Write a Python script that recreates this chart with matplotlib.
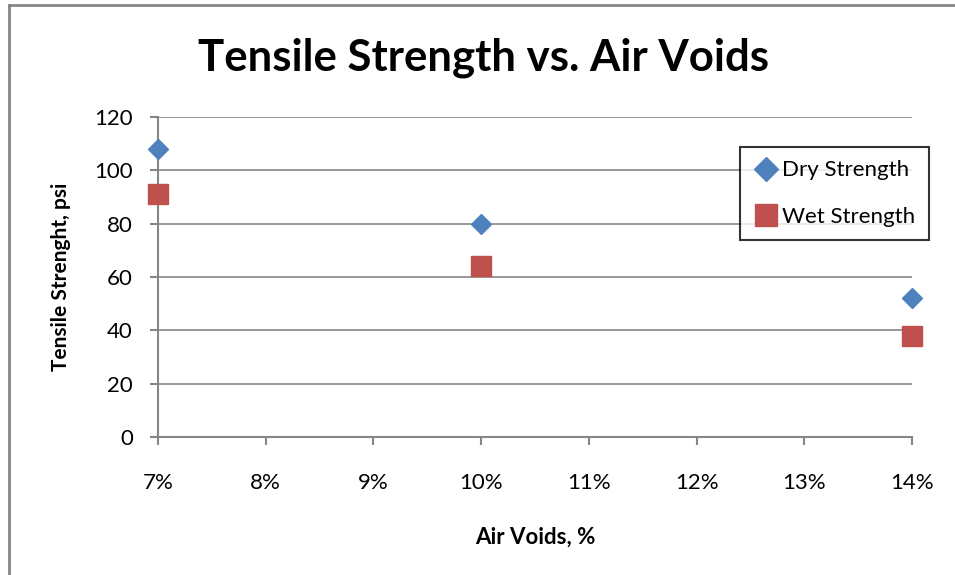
import matplotlib.pyplot as plt
from matplotlib.lines import Line2D
from matplotlib.ticker import FuncFormatter, MultipleLocator

# data
air_voids = [0.07, 0.10, 0.14]
dry_strength = [108, 80, 52]
wet_strength = [91, 64, 38]

plt.rcParams["font.family"] = ["Lato", "DejaVu Sans"]

GRID = "#868686"
BLUE = "#4F81BD"
RED = "#C0504D"

fig = plt.figure(figsize=(9.55, 5.75), dpi=100)
ax = fig.add_axes([158 / 955, 1 - 437 / 575, (912 - 158) / 955, (437 - 117) / 575])

ax.plot(air_voids, dry_strength, linestyle="none", marker="D", markersize=10.5,
        color=BLUE, label="Dry Strength", clip_on=False, zorder=3)
ax.plot(air_voids, wet_strength, linestyle="none", marker="s", markersize=14,
        color=RED, label="Wet Strength", clip_on=False, zorder=3)

ax.set_xlim(0.07, 0.14)
ax.set_ylim(0, 120)
ax.xaxis.set_major_locator(MultipleLocator(0.01))
ax.yaxis.set_major_locator(MultipleLocator(20))
ax.xaxis.set_major_formatter(FuncFormatter(lambda v, _: f"{v * 100:.0f}%"))

ax.grid(axis="y", color=GRID, linewidth=1.2)
ax.set_axisbelow(True)
for side in ("top", "right"):
    ax.spines[side].set_visible(False)
for side in ("left", "bottom"):
    ax.spines[side].set_color(GRID)
    ax.spines[side].set_linewidth(1.5)
ax.tick_params(axis="both", direction="out", length=6, width=1.5, color=GRID,
               labelsize=16, labelcolor="black")
ax.tick_params(axis="x", pad=20)
ax.tick_params(axis="y", pad=12)

ax.set_xlabel("Air Voids, %", fontsize=16, fontweight="bold", labelpad=24)
ax.set_ylabel("Tensile Strenght, psi", fontsize=15, fontweight="bold", labelpad=17)
fig.text(484 / 955, 1 - 58 / 575, "Tensile Strength vs. Air Voids",
         fontsize=31.5, fontweight="bold", ha="center", va="center")

leg = ax.legend(loc="upper left", bbox_to_anchor=((740 - 158) / 754, (437 - 147) / 320),
                frameon=True, fancybox=False, fontsize=16, borderpad=0.6,
                labelspacing=1.2, handletextpad=0.2, handlelength=1.1,
                borderaxespad=0, markerscale=1.15)
leg.get_frame().set_edgecolor("black")
leg.get_frame().set_linewidth(1.5)

# outer chart border (left and top only visible)
fig.add_artist(Line2D([8.5 / 955, 8.5 / 955], [0, 1 - 4.5 / 575], color=GRID,
                      linewidth=2, transform=fig.transFigure))
fig.add_artist(Line2D([8.5 / 955, 1], [1 - 4.5 / 575, 1 - 4.5 / 575], color=GRID,
                      linewidth=2, transform=fig.transFigure))

fig.savefig("out.png", dpi=100)
